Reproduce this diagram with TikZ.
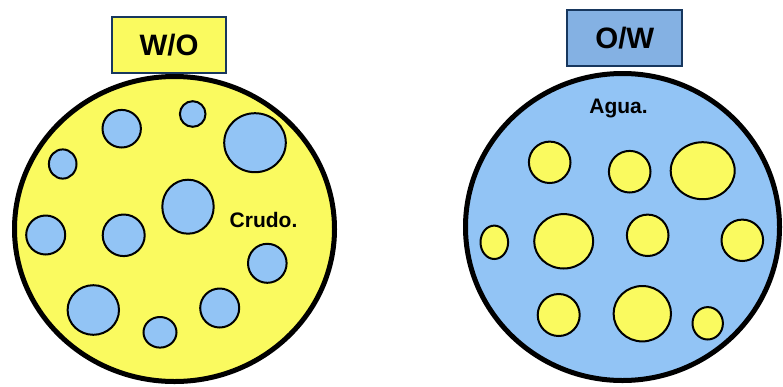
\documentclass[tikz,border=0pt]{standalone}
\usepackage{fontspec}
\setmainfont{Liberation Sans}
\definecolor{oilyel}{RGB}{250,250,95}
\definecolor{watblue}{RGB}{146,196,245}
\definecolor{boxblue}{RGB}{132,177,227}
\definecolor{navy}{RGB}{23,55,94}
\tikzset{
  bigdrop/.style={draw=black, line width=5pt},
  smalldrop/.style={draw=black, line width=2pt},
  titlebox/.style={draw=navy, line width=2pt, inner sep=0pt, font=\bfseries\fontsize{29.5}{29.5}\selectfont},
  phaselabel/.style={font=\bfseries\fontsize{21}{21}\selectfont, inner sep=0pt}
}
\begin{document}
\begin{tikzpicture}[x=1pt,y=-1pt]
\useasboundingbox (0,0) rectangle (783,386);
% W/O
\draw[bigdrop, fill=oilyel] (174.5,229) ellipse [x radius=160pt, y radius=152.5pt];
\foreach \cx/\cy/\rx/\ry in {121.7/128.7/19.2/18.8, 192.7/114/12.8/12.8, 255/142.7/30.8/29.5,
  62.7/164/13.8/14.6, 188/206.7/25.7/27, 45.7/235/19.5/19.5, 123.7/235.3/21/20.8,
  267.3/263.3/19.3/19.5, 93.3/310/25.7/24.8, 160/332.3/16.5/15.3, 219.7/308/19.5/19.5}
  \draw[smalldrop, fill=watblue] (\cx,\cy) ellipse [x radius=\rx pt, y radius=\ry pt];
\node[phaselabel] (crudo) at (263.5,220) {Crudo.};
\node[titlebox, fill=oilyel, minimum width=114pt, minimum height=56pt] (wo) at (169,45) {W/O};
% O/W
\draw[bigdrop, fill=watblue] (622.5,227) ellipse [x radius=157pt, y radius=153.5pt];
\foreach \cx/\cy/\rx/\ry in {549.7/162.3/20.8/20.7, 629.7/171.7/20.8/20.8, 702.7/170.7/32/28.5,
  494.3/242.3/13.8/16.7, 563.7/241.3/29.5/27.2, 647.7/235.3/20.8/20.7, 742.3/240.3/20.8/20.7,
  558.7/315/21/21, 642.3/313.7/28.7/27.7, 707.7/323.3/15.2/16.2}
  \draw[smalldrop, fill=oilyel] (\cx,\cy) ellipse [x radius=\rx pt, y radius=\ry pt];
\node[phaselabel] (agua) at (618.5,108.5) {Agua.};
\node[titlebox, fill=boxblue, minimum width=115pt, minimum height=56pt] (ow) at (624.8,38) {O/W};
\end{tikzpicture}
\end{document}
